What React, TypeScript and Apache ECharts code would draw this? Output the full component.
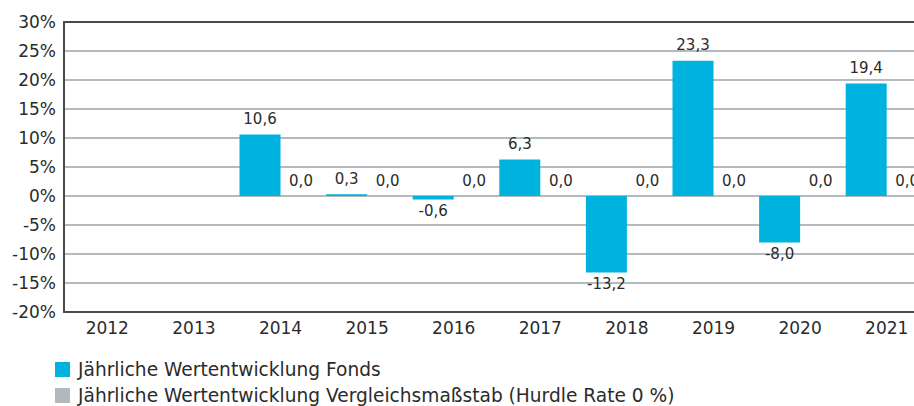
import React, { useEffect, useRef } from "react";
import * as echarts from "echarts";

const categories = ["2012", "2013", "2014", "2015", "2016", "2017", "2018", "2019", "2020", "2021"];
const fondsValues: (number | null)[] = [null, null, 10.6, 0.3, -0.6, 6.3, -13.2, 23.3, -8.0, 19.4];
const hurdleValues: (number | null)[] = [null, null, 0.0, 0.0, 0.0, 0.0, 0.0, 0.0, 0.0, 0.0];
const seriesNames = [
  "Jährliche Wertentwicklung Fonds",
  "Jährliche Wertentwicklung Vergleichsmaßstab (Hurdle Rate 0 %)",
];

const FONT = "DejaVu Sans";
const TEXT = "#2b2b2b";

const fmt = (v: number) => v.toFixed(1).replace(".", ",");

const legendBase = {
  orient: "horizontal",
  left: 55,
  padding: 0,
  itemWidth: 15,
  itemHeight: 15,
  itemGap: 8,
  icon: "rect",
  textStyle: { fontFamily: FONT, fontSize: 18.6, color: TEXT, padding: [0, 0, 0, 3] },
};

export default function App() {
  const ref = useRef<HTMLDivElement>(null);
  useEffect(() => {
    if (!ref.current) return;
    const chart = echarts.init(ref.current, undefined, { renderer: "svg" });
    chart.setOption({
      animation: false,
      textStyle: { fontFamily: FONT },
      grid: { left: 64, top: 22, bottom: 94, right: -12, containLabel: false },
      legend: [
        { ...legendBase, top: 360, data: [seriesNames[0]] },
        { ...legendBase, top: 386, data: [seriesNames[1]] },
      ],
      xAxis: [
        {
          type: "category",
          data: categories,
          axisLine: { show: true, onZero: false, lineStyle: { color: "#4a4a4a", width: 2 } },
          axisTick: { show: false },
          axisLabel: { fontFamily: FONT, fontSize: 17, color: TEXT, margin: 7 },
        },
        {
          type: "category",
          position: "top",
          data: categories,
          axisLine: { show: true, onZero: false, lineStyle: { color: "#4a4a4a", width: 2 } },
          axisTick: { show: false },
          axisLabel: { show: false },
        },
      ],
      yAxis: {
        type: "value",
        min: -20,
        max: 30,
        interval: 5,
        axisLine: { show: true, lineStyle: { color: "#4a4a4a", width: 2 } },
        axisTick: { show: false },
        axisLabel: {
          fontFamily: FONT,
          fontSize: 17,
          color: TEXT,
          margin: 8,
          formatter: (v: number) => `${v}%`,
        },
        splitLine: { show: true, lineStyle: { color: "#b3bac0", width: 2 } },
      },
      series: [
        {
          name: seriesNames[0],
          type: "bar",
          barWidth: 41,
          barGap: "0%",
          itemStyle: { color: "#00b2de" },
          data: fondsValues.map((v) =>
            v === null
              ? null
              : {
                  value: v,
                  label: v < 0 ? { position: "bottom", distance: 4 } : { position: "top", distance: 8 },
                }
          ),
          label: {
            show: true,
            fontFamily: FONT,
            fontSize: 15,
            color: TEXT,
            formatter: (p: any) => fmt(p.value),
          },
        },
        {
          name: seriesNames[1],
          type: "bar",
          barWidth: 41,
          barGap: "0%",
          itemStyle: { color: "#b1b8be" },
          data: hurdleValues,
          label: {
            show: true,
            position: "top",
            distance: 8,
            fontFamily: FONT,
            fontSize: 15,
            color: TEXT,
            formatter: (p: any) => fmt(p.value),
          },
        },
      ],
    });
    return () => chart.dispose();
  }, []);
  return (
    <div
      ref={ref}
      style={{ position: "absolute", left: 0, top: 0, width: 930, height: 406, background: "#fff" }}
    />
  );
}
